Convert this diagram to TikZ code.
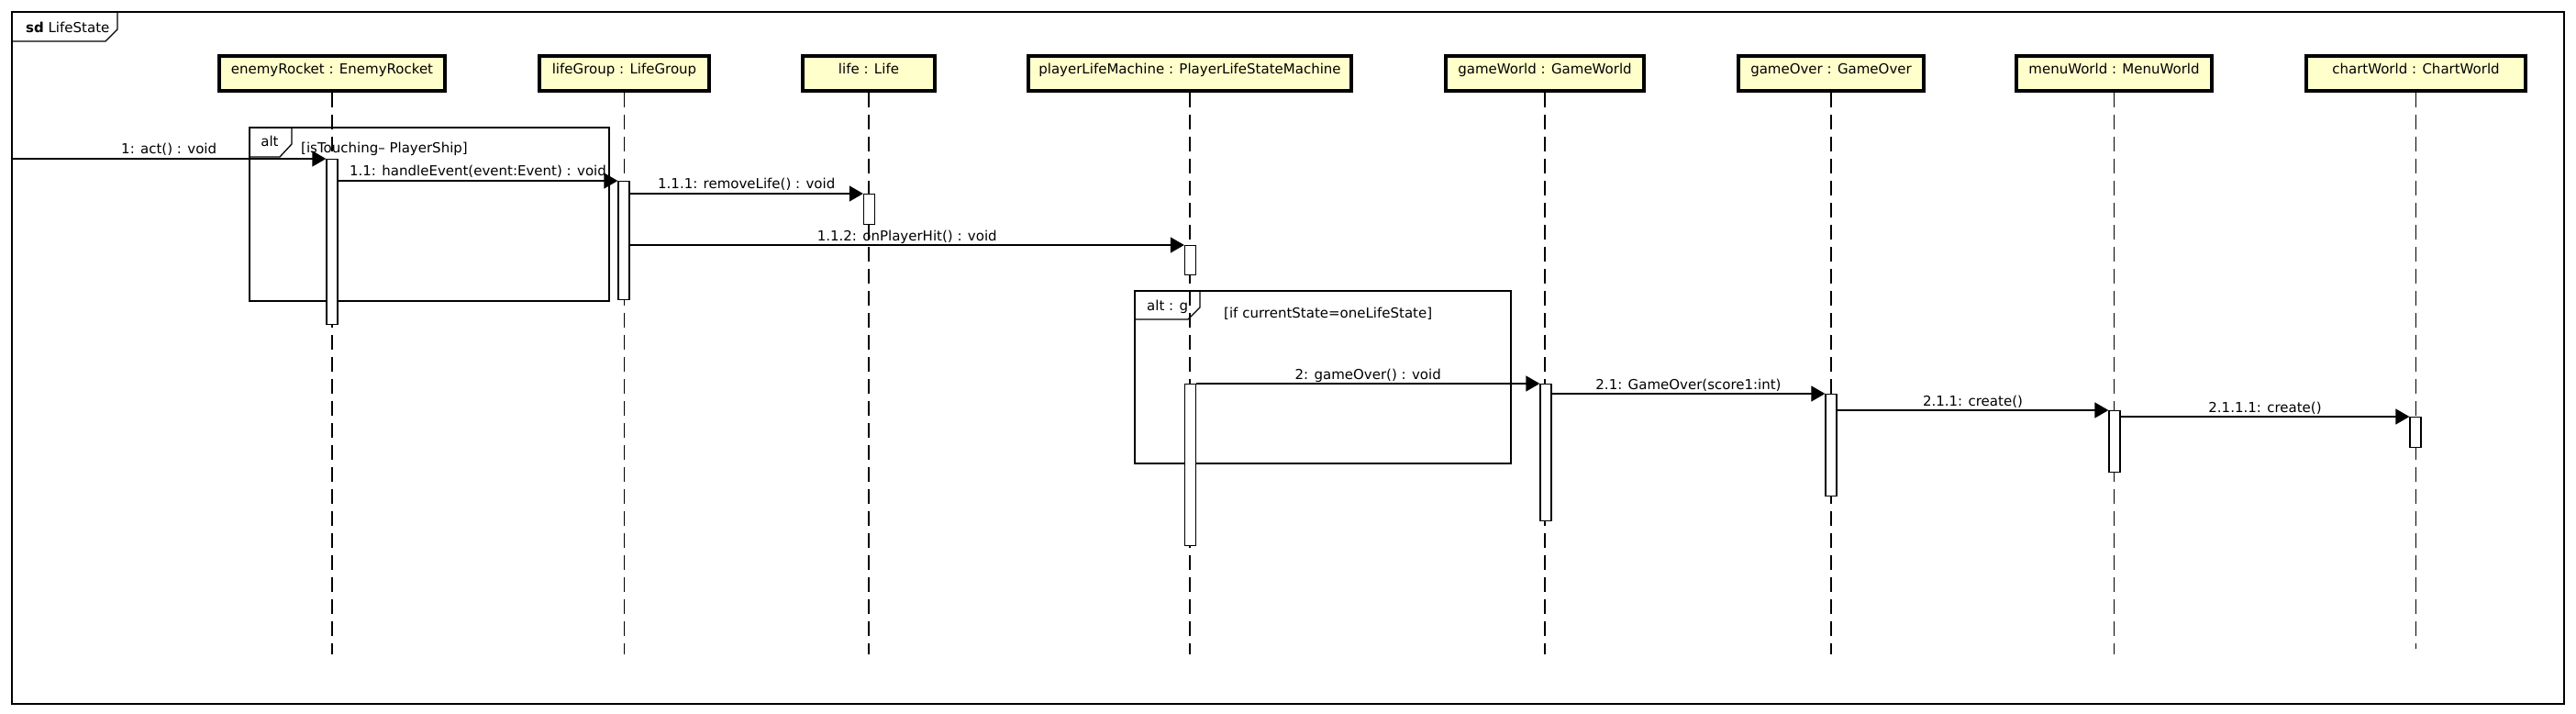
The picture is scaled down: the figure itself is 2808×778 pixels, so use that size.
\documentclass[tikz,border=0pt]{standalone}
\usepackage{fontspec}
\setmainfont{DejaVu Sans}
\usetikzlibrary{arrows.meta}
\definecolor{lyellow}{RGB}{255,255,204}
\tikzset{
  lbox/.style={draw, line width=3.6pt, fill=lyellow, minimum height=38.4pt, inner sep=0pt, text height=2pt, text depth=0pt},
  actbar/.style={draw, fill=white, line width=1.3pt, inner sep=0pt, minimum width=12pt, anchor=north},
  lifeline/.style={line width=1.2pt, dash pattern=on 16pt off 8pt},
  msg/.style={line width=1.3pt, -{Triangle[length=15pt,width=17pt]}},
  msglab/.style={midway, anchor=base, yshift=5pt, inner sep=0pt},
  framebox/.style={line width=1.3pt},
  txt/.style={inner sep=0pt}
}
\begin{document}
\begin{tikzpicture}[x=1pt, y=-1pt, font=\fontsize{15}{17}\selectfont]
\useasboundingbox (0,0) rectangle (2808,778);
% outer frame
\draw[framebox] (13,13) rectangle (2795,767);
\draw[framebox] (13,45) -- (115,45) -- (128,32) -- (128,13);
\node[txt, anchor=base west] (sdlab) at (28,36) {\textbf{sd} LifeState};
% alt frames
\draw[framebox] (272,139) rectangle (664,328);
\draw[framebox] (272,171) -- (305,171) -- (318,157) -- (318,139);
\node[txt, anchor=base] (alt1) at (294,160) {alt};
\node[txt, anchor=base west] (g1) at (328,167) {[isTouching– PlayerShip]};
\draw[framebox] (1237,317) rectangle (1647,505);
\draw[framebox] (1237,348) -- (1295,348) -- (1308,335) -- (1308,317);
\node[txt, anchor=base west] (alt2) at (1250,338) {alt : g};
\node[txt, anchor=base west] (g2) at (1334,346) {[if currentState=oneLifeState]};
% lifeline heads
\node[lbox, minimum width=246.4pt] (ER) at (362,80) {enemyRocket : EnemyRocket};
\node[lbox, minimum width=185.4pt] (LG) at (680.5,80) {lifeGroup : LifeGroup};
\node[lbox, minimum width=144.4pt] (LF) at (947,80) {life : Life};
\node[lbox, minimum width=352.4pt] (PM) at (1297,80) {playerLifeMachine : PlayerLifeStateMachine};
\node[lbox, minimum width=216.4pt] (GW) at (1684,80) {gameWorld : GameWorld};
\node[lbox, minimum width=202.4pt] (GO) at (1996,80) {gameOver : GameOver};
\node[lbox, minimum width=213.4pt] (MW) at (2304.5,80) {menuWorld : MenuWorld};
\node[lbox, minimum width=239.4pt] (CW) at (2633.5,80) {chartWorld : ChartWorld};
% lifelines
\foreach \n in {ER,LG,LF,PM,GW,GO,MW}{
  \draw[lifeline] (\n.south) -- (\n.south |- 0,713);
}
\draw[lifeline] (CW.south) -- (CW.south |- 0,707);
% activation bars
\node[actbar, minimum height=180pt] (aER) at (362,173) {};
\node[actbar, minimum height=129pt] (aLG) at (680,197) {};
\node[actbar, minimum height=33pt] (aLF) at (947.5,211) {};
\node[actbar, minimum height=32pt] (aPM1) at (1297.5,267) {};
\node[actbar, minimum height=176pt] (aPM2) at (1297.5,418) {};
\node[actbar, minimum height=149pt] (aGW) at (1685,418) {};
\node[actbar, minimum height=111pt] (aGO) at (1996,429) {};
\node[actbar, minimum height=67pt] (aMW) at (2305,447) {};
\node[actbar, minimum height=33pt] (aCW) at (2633,454) {};
% messages
\coordinate (start) at (13,173);
\draw[msg] (start) -- node[msglab]{1: act() : void} (aER.north west);
\draw[msg] (aER.east |- aLG.north west) -- node[msglab]{1.1: handleEvent(event:Event) : void} (aLG.north west);
\draw[msg] (aLG.east |- aLF.north west) -- node[msglab]{1.1.1: removeLife() : void} (aLF.north west);
\draw[msg] (aLG.east |- aPM1.north west) -- node[msglab]{1.1.2: onPlayerHit() : void} (aPM1.north west);
\draw[msg] (aPM2.north east) -- node[msglab]{2: gameOver() : void} (aGW.north west);
\draw[msg] (aGW.east |- aGO.north west) -- node[msglab]{2.1: GameOver(score1:int)} (aGO.north west);
\draw[msg] (aGO.east |- aMW.north west) -- node[msglab]{2.1.1: create()} (aMW.north west);
\draw[msg] (aMW.east |- aCW.north west) -- node[msglab]{2.1.1.1: create()} (aCW.north west);
\end{tikzpicture}
\end{document}
